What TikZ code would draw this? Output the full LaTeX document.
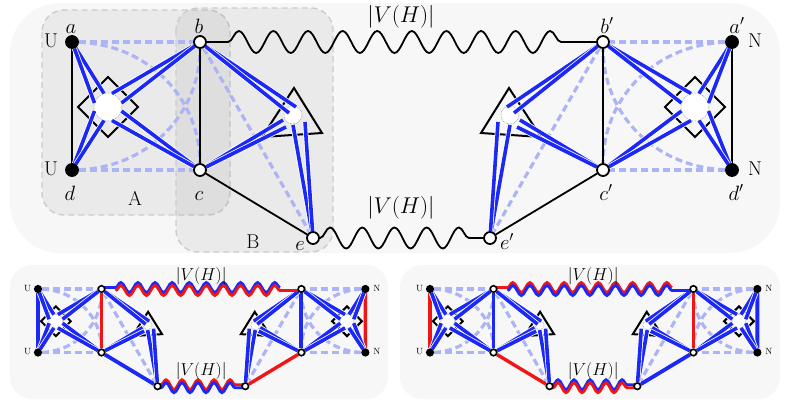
\documentclass[tikz,border=0pt]{standalone}
\usepackage{fontspec}
\usetikzlibrary{decorations.pathmorphing}
\definecolor{myblue}{RGB}{28,40,245}
\definecolor{myred}{RGB}{240,22,22}
\definecolor{lightdash}{RGB}{172,180,245}
\definecolor{panelbg}{RGB}{247,247,247}
\pgfdeclarelayer{bg}
\pgfdeclarelayer{edges}
\pgfsetlayers{bg,edges,main}
\tikzset{
  vtx/.style={circle, draw=black, fill=white, inner sep=0pt, vsz},
  fvtx/.style={vtx, fill=black},
  dashE/.style={draw=lightdash, line width=3.2pt, dash pattern=on 7pt off 4pt},
  blk/.style={draw=black, line width=1.8pt},
  bluE/.style={draw=myblue, line width=3.8pt},
  redE/.style={draw=myred, line width=3.4pt},
  glin/.style={draw=myblue, line width=3.6pt, preaction={draw=white, line width=5.2pt}},
  gshape/.style={draw=black, line width=2pt, line join=miter},
  gcirc/.style={draw=black!55, fill=white, densely dotted, line width=0.5pt},
  region/.style={fill=black, fill opacity=0.05, draw=black!20, line width=1.4pt,
                 dash pattern=on 6pt off 4pt, rounded corners=22pt},
  snB/.style={draw=myblue, line width=2.8pt},
  snR/.style={draw=myred, line width=2.8pt},
}
\newcommand\panelbody{%
  \node[fvtx] (a) at (72,42) {};
  \node[fvtx] (d) at (72,170) {};
  \node[vtx] (b) at (200,42) {};
  \node[vtx] (c) at (200,170) {};
  \node[vtx] (e) at (313,238) {};
  \node[fvtx] (a2) at (732,42) {};
  \node[fvtx] (d2) at (732,170) {};
  \node[vtx] (b2) at (603,42) {};
  \node[vtx] (c2) at (603,170) {};
  \node[vtx] (e2) at (490,238) {};
  \coordinate (g1) at (108,107);
  \coordinate (g2) at (695,107);
  \coordinate (t1) at (293,115);
  \coordinate (t2) at (510,115);
  \node[lab, anchor=base] (uA) at (51,47) {U};
  \node[lab, anchor=base] (uD) at (51,175) {U};
  \node[lab, anchor=base] (nA) at (755,47) {N};
  \node[lab, anchor=base] (nD) at (755,175) {N};
  \node[vlab] (vh1) at (401,17) {\vhscale{$|V(H)|$}};
  \node[vlab] (vh2) at (401,208) {\vhscale{$|V(H)|$}};
  \begin{pgfonlayer}{edges}
    \draw[dashE] (a) -- (b);
    \draw[dashE] (d) -- (c);
    \draw[dashE] (a) .. controls (150,45) and (200,100) .. (c);
    \draw[dashE] (d) .. controls (150,167) and (200,112) .. (b);
    \draw[dashE] (b) -- (e);
    \draw[dashE] (a2) -- (b2);
    \draw[dashE] (d2) -- (c2);
    \draw[dashE] (a2) .. controls (653,45) and (603,100) .. (c2);
    \draw[dashE] (d2) .. controls (653,167) and (603,112) .. (b2);
    \draw[dashE] (b2) -- (e2);
    \draw[eAD] (a) -- (d);
    \draw[eBC] (b) -- (c);
    \draw[eCE] (c) -- (e);
    \draw[eBCb] (b2) -- (c2);
    \draw[eCEb] (c2) -- (e2);
    \draw[eADb] (a2) -- (d2);
    % gadgets
    \draw[gshape] (g1) +(-30,0) -- +(0,-30) -- +(30,0) -- +(0,30) -- cycle;
    \draw[gshape] (g2) +(-30,0) -- +(0,-30) -- +(30,0) -- +(0,30) -- cycle;
    \draw[gshape] (t1) +(1,-27) -- +(29,18) -- +(-31,22) -- cycle;
    \draw[gshape] (t2) +(-1,-27) -- +(-29,18) -- +(31,22) -- cycle;
    \draw[gcirc] (g1) circle[radius=14];
    \draw[gcirc] (g2) circle[radius=14];
    \draw[gcirc] (t1) circle[radius=9];
    \draw[gcirc] (t2) circle[radius=9];
    % diamond 1
    \draw[glin] (g1) +(-4,-13.5) -- (a);
    \draw[glin] (g1) +(-13.5,-4) -- (a);
    \draw[glin] (g1) +(4,-13.5) -- (b);
    \draw[glin] (g1) +(13.5,-4) -- (b);
    \draw[glin] (g1) +(13.5,4) -- (c);
    \draw[glin] (g1) +(4,13.5) -- (c);
    \draw[glin] (g1) +(-13.5,4) -- (d);
    \draw[glin] (g1) +(-4,13.5) -- (d);
    % diamond 2
    \draw[glin] (g2) +(4,-13.5) -- (a2);
    \draw[glin] (g2) +(13.5,-4) -- (a2);
    \draw[glin] (g2) +(-4,-13.5) -- (b2);
    \draw[glin] (g2) +(-13.5,-4) -- (b2);
    \draw[glin] (g2) +(-13.5,4) -- (c2);
    \draw[glin] (g2) +(-4,13.5) -- (c2);
    \draw[glin] (g2) +(13.5,4) -- (d2);
    \draw[glin] (g2) +(4,13.5) -- (d2);
    % triangle 1
    \draw[glin] (t1) +(3,-8) -- (b);
    \draw[glin] (t1) +(-4,-2) -- (b);
    \draw[glin] (t1) +(-10,5) -- (c);
    \draw[glin] (t1) +(-7,12) -- (c);
    \draw[glin] (t1) +(0,10) -- (e);
    \draw[glin] (t1) +(12,7) -- (e);
    % triangle 2
    \draw[glin] (t2) +(-3,-8) -- (b2);
    \draw[glin] (t2) +(4,-2) -- (b2);
    \draw[glin] (t2) +(10,5) -- (c2);
    \draw[glin] (t2) +(7,12) -- (c2);
    \draw[glin] (t2) +(0,10) -- (e2);
    \draw[glin] (t2) +(-12,7) -- (e2);
  \end{pgfonlayer}
}
\begin{document}
\begin{tikzpicture}[x=1pt,y=-1pt]
\useasboundingbox (0,0) rectangle (790,402);
\begin{pgfonlayer}{bg}
  \fill[panelbg, rounded corners=50pt] (10,3) rectangle (780,253);
  \fill[panelbg, rounded corners=22pt] (10,265) rectangle (388,399);
  \fill[panelbg, rounded corners=22pt] (400,265) rectangle (780,399);
  \filldraw[region] (42,10) rectangle (230,215);
  \filldraw[region] (176,8) rectangle (333,252);
\end{pgfonlayer}
% ---------------- top panel
\begin{scope}[vsz/.style={minimum size=12pt, line width=1.8pt},
  lab/.style={font=\fontsize{20}{24}\selectfont, inner sep=0pt},
  vlab/.style={font=\fontsize{20.74}{25}\selectfont, inner sep=0pt}]
  \def\vhscale#1{\scalebox{1.1}{#1}}
  \tikzset{eAD/.style={blk}, eBC/.style={blk}, eCE/.style={blk},
    eADb/.style={blk}, eBCb/.style={blk}, eCEb/.style={blk}}
  \panelbody
  \node[lab, anchor=base] (la) at (71,33) {$a$};
  \node[lab, anchor=base] (lb) at (199,33) {$b$};
  \node[lab, anchor=base] (ld) at (70,200) {$d$};
  \node[lab, anchor=base] (lc) at (199,200) {$c$};
  \node[lab, anchor=base] (le) at (300,250) {$e$};
  \node[lab, anchor=base] (la2) at (737,33) {$a'$};
  \node[lab, anchor=base] (lb2) at (607,33) {$b'$};
  \node[lab, anchor=base] (ld2) at (736,200) {$d'$};
  \node[lab, anchor=base] (lc2) at (606,200) {$c'$};
  \node[lab, anchor=base] (le2) at (507,249) {$e'$};
  \node[lab, anchor=base] (lA) at (135,205) {A};
  \node[lab, anchor=base] (lB) at (253,248) {B};
  \begin{pgfonlayer}{edges}
    \draw[blk, decorate, decoration={snake, amplitude=11pt, segment length=34.6pt,
      pre length=28pt, post length=28pt}] (b.center) -- (b2.center);
    \draw[blk, decorate, decoration={snake, amplitude=10.5pt, segment length=32.2pt,
      pre length=7pt, post length=8pt}] (e.center) -- (e2.center);
  \end{pgfonlayer}
\end{scope}
% ---------------- bottom left panel
\begin{scope}[shift={(38,289)}, scale=0.496, shift={(-72,-42)},
  vsz/.style={minimum size=6.5pt, line width=1.6pt},
  lab/.style={font=\fontsize{9}{10}\selectfont, inner sep=0pt},
  vlab/.style={font=\fontsize{17.28}{20}\selectfont, inner sep=0pt}]
  \def\vhscale#1{#1}
  \tikzset{eAD/.style={bluE}, eBC/.style={redE}, eCE/.style={bluE},
    eADb/.style={redE}, eBCb/.style={bluE}, eCEb/.style={redE}}
  \panelbody
  \begin{pgfonlayer}{edges}
    \draw[snB, transform canvas={yshift=1.5pt}, decorate, decoration={snake, amplitude=5pt,
      segment length=17.1pt, pre length=14pt, post length=14pt, post=moveto}] (b.center) -- (b2.center);
    \draw[snR, transform canvas={yshift=-1.5pt}, decorate, decoration={snake, amplitude=5pt,
      segment length=17.1pt, pre length=14pt, post length=14pt, pre=moveto}] (b.center) -- (b2.center);
    \draw[snR, transform canvas={yshift=1.5pt}, decorate, decoration={snake, amplitude=5pt,
      segment length=16pt, pre length=3.5pt, post length=4pt}] (e.center) -- (e2.center);
    \draw[snB, transform canvas={yshift=-1.5pt}, decorate, decoration={snake, amplitude=5pt,
      segment length=16pt, pre length=3.5pt, post length=4pt}] (e.center) -- (e2.center);
  \end{pgfonlayer}
\end{scope}
% ---------------- bottom right panel
\begin{scope}[shift={(430,289)}, scale=0.496, shift={(-72,-42)},
  vsz/.style={minimum size=6.5pt, line width=1.6pt},
  lab/.style={font=\fontsize{9}{10}\selectfont, inner sep=0pt},
  vlab/.style={font=\fontsize{17.28}{20}\selectfont, inner sep=0pt}]
  \def\vhscale#1{#1}
  \tikzset{eAD/.style={redE}, eBC/.style={bluE}, eCE/.style={redE},
    eADb/.style={bluE}, eBCb/.style={redE}, eCEb/.style={bluE}}
  \panelbody
  \begin{pgfonlayer}{edges}
    \draw[snR, transform canvas={yshift=1.5pt}, decorate, decoration={snake, amplitude=5pt,
      segment length=17.1pt, pre length=14pt, post length=14pt, post=moveto}] (b.center) -- (b2.center);
    \draw[snB, transform canvas={yshift=-1.5pt}, decorate, decoration={snake, amplitude=5pt,
      segment length=17.1pt, pre length=14pt, post length=14pt, pre=moveto}] (b.center) -- (b2.center);
    \draw[snB, transform canvas={yshift=1.5pt}, decorate, decoration={snake, amplitude=5pt,
      segment length=16pt, pre length=3.5pt, post length=4pt}] (e.center) -- (e2.center);
    \draw[snR, transform canvas={yshift=-1.5pt}, decorate, decoration={snake, amplitude=5pt,
      segment length=16pt, pre length=3.5pt, post length=4pt}] (e.center) -- (e2.center);
  \end{pgfonlayer}
\end{scope}
\end{tikzpicture}
\end{document}
